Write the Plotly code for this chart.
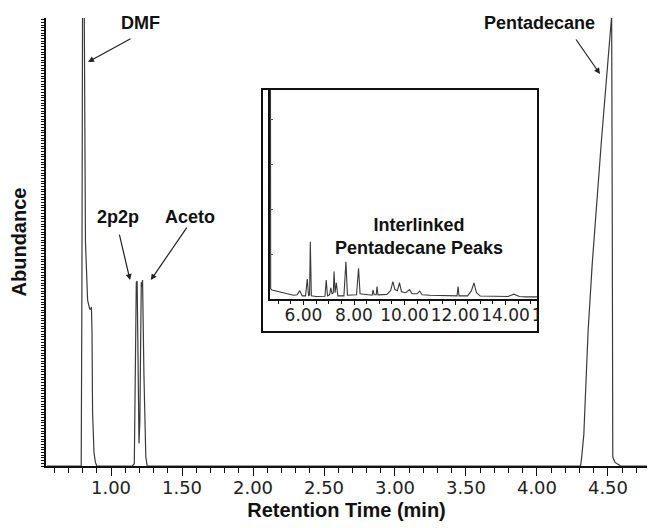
import plotly.graph_objects as go

# ---- main chromatogram (retention time in min, abundance in % of axis height)
main_time = [0.55, 0.70, 0.79, 0.795, 0.80, 0.81, 0.815, 0.82, 0.835, 0.85, 0.858, 0.862,
             0.866, 0.87, 0.88, 0.89, 0.90, 1.00, 1.15, 1.164, 1.170, 1.178, 1.184,
             1.190, 1.197, 1.203, 1.208, 1.213, 1.218, 1.222, 1.232, 1.245, 1.255,
             2.00, 3.00, 4.00, 4.307, 4.315, 4.33, 4.36, 4.389, 4.454, 4.522, 4.526,
             4.530, 4.534, 4.55, 4.59, 4.78]
main_abund = [0, 0, 0, 40, 110, 110, 70, 50, 37, 35, 35, 35.5,
              30, 12, 3, 0.8, 0, 0, 0, 0.5, 20, 41, 41.3,
              20, 5, 10, 30, 41, 40, 41.5, 20, 2, 0,
              0, 0, 0, 0, 2, 7, 30, 45, 72.6, 100.5, 100.5,
              60, 2, 0.8, 0, 0]

# ---- inset: interlinked pentadecane peaks
inset_time = [4.69, 4.695, 4.70, 4.75, 5.0, 5.3, 5.6, 5.75, 5.85, 5.95, 6.08, 6.15, 6.2,
              6.24, 6.27, 6.31, 6.5, 6.85, 6.9, 6.95, 7.03, 7.08, 7.13, 7.18, 7.21,
              7.25, 7.3, 7.36, 7.6, 7.68, 7.74, 8.1, 8.18, 8.24, 8.5, 8.72, 8.75, 8.8,
              8.88, 8.91, 8.95, 9.3, 9.45, 9.54, 9.62, 9.72, 9.8, 9.88, 10.05, 10.2,
              10.3, 10.5, 10.6, 10.7, 11.0, 11.5, 12.08, 12.12, 12.16, 12.5, 12.65,
              12.75, 12.85, 13.0, 13.5, 14.1, 14.33, 14.55, 14.8, 15.3, 16.2]
inset_abund = [130, 60, 5, 4.3, 3.5, 2.5, 1.8, 2, 4, 1.5, 1.5, 9.6, 1.5,
               2, 27.4, 1.5, 1.2, 1.3, 9.1, 1.5, 2, 5.3, 2.5, 3, 13.1,
               3, 7.7, 1.5, 1.5, 17.8, 1.8, 2, 14.7, 2.5, 2, 1.8, 4.3, 2,
               2, 5.9, 2, 2.2, 4, 8.3, 4.5, 4, 7.8, 3.5, 3, 4.5,
               2.5, 2.5, 3.8, 2, 1.8, 1.5, 1.5, 5.9, 1.5, 1.5, 4,
               7.7, 3, 1.4, 1.2, 1.2, 2.3, 1.2, 1, 1, 1]

# ---- labels
peak_labels = ["DMF", "2p2p", "Aceto", "Pentadecane", "Interlinked<br>Pentadecane Peaks"]
label_x = [1.211, 1.049, 1.556, 4.021, 3.169]
label_y = [98.9, 55.6, 55.6, 98.9, 51.2]
# arrows: head position (data) and tail offset (px)
arrow_x = [0.838, 1.134, 1.280, 4.444]
arrow_y = [90.2, 41.5, 41.5, 87.5]
arrow_ax = [44, -11, 37, -25]
arrow_ay = [-24, -47, -54, -36]

# page body has an 8px default margin, so the figure is 8px smaller than the window
OFF = 8
W, H = 668 - OFF, 528 - OFF
L, R, T, B = 46 - OFF, 21, 18 - OFF, 62
PW, PH = W - L - R, H - T - B


def px_x(p):  # window pixel -> paper x
    return (p - OFF - L) / PW


def px_y(p):  # window pixel -> paper y
    return (OFF + H - B - p) / PH


fig = go.Figure()
fig.add_trace(go.Scatter(x=main_time, y=main_abund, mode="lines",
                         line=dict(color="#3a3a3a", width=1.2),
                         xaxis="x", yaxis="y", showlegend=False, hoverinfo="skip"))
fig.add_trace(go.Scatter(x=inset_time, y=inset_abund, mode="lines",
                         line=dict(color="#3a3a3a", width=1.1),
                         xaxis="x2", yaxis="y2", showlegend=False, hoverinfo="skip"))

tickfont = dict(family="DejaVu Sans", size=18, color="#222")
boldfont = dict(family="Arial, Liberation Sans", size=18, color="#111", weight="bold")
titlefont = dict(family="Arial, Liberation Sans", size=20, color="#111", weight="bold")

fig.update_layout(
    width=W, height=H,
    margin=dict(l=L, r=R, t=T, b=B, autoexpand=False),
    paper_bgcolor="white", plot_bgcolor="white",
    xaxis=dict(range=[0.542, 4.775], domain=[0, 1], anchor="y", automargin=False,
               showgrid=False, zeroline=False, showline=True, linecolor="#111", linewidth=2,
               ticks="outside", ticklen=8, tickcolor="#111", tickwidth=1,
               tick0=0, dtick=0.5, tickformat=".2f", tickfont=tickfont, tickangle=0,
               ticklabelstandoff=-4,
               minor=dict(dtick=0.1, tick0=0, ticks="outside", ticklen=5, tickcolor="#111"),
               title=dict(text="Retention Time (min)", font=titlefont, standoff=6)),
    yaxis=dict(range=[0, 100], domain=[0, 1], anchor="x", automargin=False,
               showgrid=False, zeroline=False, showline=True, linecolor="#111", linewidth=2,
               ticks="outside", ticklen=3, tickcolor="#111", tickwidth=1,
               tick0=0, dtick=0.6, showticklabels=False,
               title=dict(text="Abundance", standoff=10, font=titlefont)),
    xaxis2=dict(range=[4.673, 16.158], domain=[px_x(270), px_x(560)], anchor="y2",
                automargin=False,
                showgrid=False, zeroline=False, showline=True, linecolor="#111", linewidth=1.5,
                ticks="outside", ticklen=4, tickcolor="#111", tickangle=0,
                tick0=0, dtick=2, tickformat=".2f", ticklabelstandoff=-4,
                tickfont=dict(family="DejaVu Sans", size=17, color="#222"),
                minor=dict(dtick=0.5, tick0=0, ticks="outside", ticklen=3, tickcolor="#111")),
    yaxis2=dict(range=[0, 100], domain=[px_y(299), px_y(90)], anchor="x2",
                automargin=False,
                showgrid=False, zeroline=False, showline=True, linecolor="#111", linewidth=1.5,
                ticks="inside", ticklen=3, tickcolor="#555", dtick=21.5, tick0=0,
                showticklabels=False),
)

# cover overflow of inset axis, then draw inset frame
fig.add_shape(type="rect", xref="paper", yref="paper",
              x0=px_x(539), x1=px_x(580), y0=px_y(336), y1=px_y(85),
              fillcolor="white", line=dict(width=0), layer="above")
fig.add_shape(type="rect", xref="paper", yref="paper",
              x0=px_x(262), x1=px_x(538), y0=px_y(332), y1=px_y(89),
              line=dict(color="#111", width=2), layer="above")

for t, x, y in zip(peak_labels, label_x, label_y):
    fig.add_annotation(x=x, y=y, xref="x", yref="y", text=t, showarrow=False,
                       font=boldfont, xanchor="center", yanchor="middle")

for x, y, ax, ay in zip(arrow_x, arrow_y, arrow_ax, arrow_ay):
    fig.add_annotation(x=x, y=y, xref="x", yref="y", text="", showarrow=True,
                       ax=ax, ay=ay, arrowhead=2, arrowsize=1, arrowwidth=1.2,
                       arrowcolor="#222")

fig.write_html("out.html")
